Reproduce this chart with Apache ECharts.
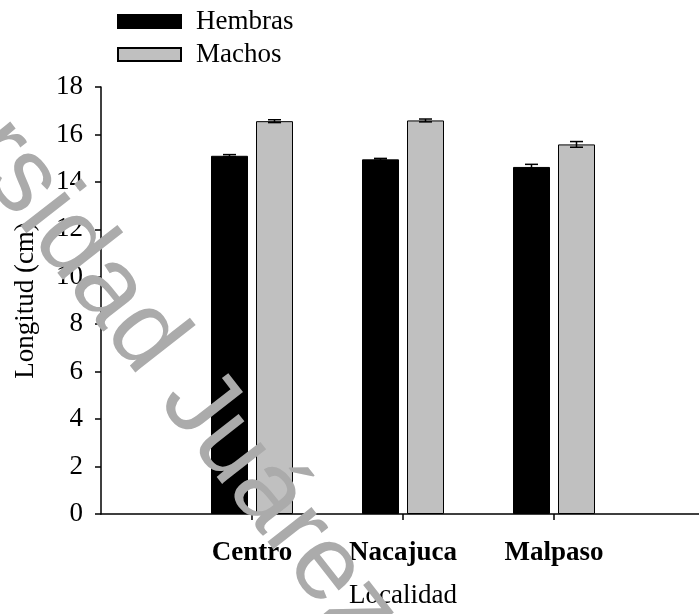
<!DOCTYPE html>
<html>
<head>
<meta charset="utf-8">
<script src="https://cdn.jsdelivr.net/npm/echarts@6/dist/echarts.min.js"></script>
<style>html,body{margin:0;padding:0;background:#fff;overflow:hidden;width:699px;height:614px}#c{width:720px;height:614px}</style>
</head>
<body>
<div id="c"></div>
<script>
var categories = ['', 'Centro', 'Nacajuca', 'Malpaso', ''];
var hembras = [null, 15.10, 14.95, 14.63, null];
var hembrasErr = [null, 0.05, 0.04, 0.11, null];
var machos = [null, 16.56, 16.59, 15.58, null];
var machosErr = [null, 0.06, 0.06, 0.12, null];
var yTicks = { min: 0, max: 18, interval: 2 };

var FONT = 'Liberation Serif';
var FS = 27;
var BARW = 37, GAP = 8;

function errSeries(name, vals, errs, offset, color) {
  var data = [];
  for (var i = 0; i < vals.length; i++) {
    if (vals[i] != null) data.push([i, vals[i], errs[i]]);
  }
  return {
    type: 'custom', name: name + ' err', z: 5, silent: true,
    data: data,
    renderItem: function (params, api) {
      var i = api.value(0), v = api.value(1), e = api.value(2);
      var top = api.coord([i, v + e]);
      var bot = api.coord([i, v - e]);
      var x = top[0] + offset;
      var hw = 6.5;
      var st = { stroke: color, lineWidth: 1.5 };
      return { type: 'group', children: [
        { type: 'line', shape: { x1: x, y1: top[1], x2: x, y2: bot[1] }, style: st },
        { type: 'line', shape: { x1: x - hw, y1: top[1], x2: x + hw, y2: top[1] }, style: st },
        { type: 'line', shape: { x1: x - hw, y1: bot[1], x2: x + hw, y2: bot[1] }, style: st }
      ]};
    }
  };
}

var chart = echarts.init(document.getElementById('c'), null, { renderer: 'canvas' });
var off = (BARW + GAP) / 2;
chart.setOption({
  animation: false,
  backgroundColor: '#fff',
  textStyle: { fontFamily: FONT, color: '#000' },
  grid: { left: 101, top: 87, width: 604, height: 430, containLabel: false },
  legend: {
    orient: 'vertical', left: 117, top: 8, itemGap: 6, padding: 0,
    itemWidth: 63, itemHeight: 13, icon: 'rect',
    data: ['Hembras', 'Machos'],
    textStyle: { fontFamily: FONT, fontSize: FS, color: '#000', padding: [0, 0, 0, 10] }
  },
  xAxis: {
    type: 'category', data: categories, boundaryGap: false,
    name: 'Localidad', nameLocation: 'middle', nameGap: 68,
    nameTextStyle: { fontFamily: FONT, fontSize: FS, color: '#000' },
    axisLine: { lineStyle: { color: '#000', width: 1.5 } },
    axisTick: { show: true, length: 6, lineStyle: { color: '#000', width: 1.5 },
      interval: function (i) { return i >= 1 && i <= 3; } },
    axisLabel: { fontFamily: FONT, fontSize: FS, fontWeight: 'bold', color: '#000', margin: 26,
      interval: 0 },
    splitLine: { show: false }
  },
  yAxis: {
    type: 'value', min: yTicks.min, max: yTicks.max, interval: yTicks.interval,
    name: 'Longitud (cm)', nameLocation: 'middle', nameRotate: 90, nameGap: 62,
    nameTextStyle: { fontFamily: FONT, fontSize: FS, color: '#000' },
    axisLine: { show: true, lineStyle: { color: '#000', width: 1.5 } },
    axisTick: { show: true, length: 6, lineStyle: { color: '#000', width: 1.5 } },
    axisLabel: { fontFamily: FONT, fontSize: FS, color: '#000', margin: 18 },
    splitLine: { show: false }
  },
  graphic: [{
    type: 'text', z: 100, silent: true,
    x: -182, y: -81, rotation: -52 * Math.PI / 180,
    style: {
      text: 'Universidad Juárez Autónoma de Tabasco',
      font: '106px "Liberation Sans"',
      fill: '#ababab',
      blend: 'multiply',
      textAlign: 'left', textVerticalAlign: 'middle'
    }
  }],
  series: [
    { type: 'bar', name: 'Hembras', data: hembras, barWidth: BARW, barGap: (GAP / BARW * 100) + '%',
      itemStyle: { color: '#000', borderColor: '#000', borderWidth: 1 } },
    { type: 'bar', name: 'Machos', data: machos, barWidth: BARW,
      itemStyle: { color: '#c0c0c0', borderColor: '#000', borderWidth: 1 } },
    errSeries('Hembras', hembras, hembrasErr, -off, '#000'),
    errSeries('Machos', machos, machosErr, off, '#000')
  ]
});
</script>
</body>
</html>
